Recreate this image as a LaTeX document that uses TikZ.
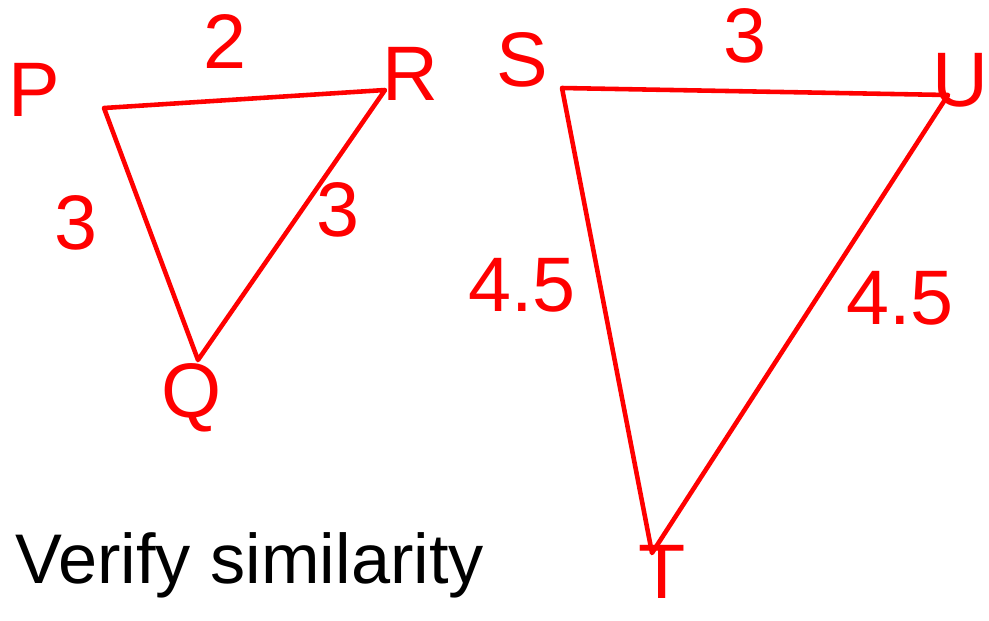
\documentclass[tikz,border=0pt]{standalone}
\usepackage{fontspec}
\setmainfont{Liberation Sans}
\begin{document}
\begin{tikzpicture}[x=0.02cm,y=-0.02cm,
  edge/.style={draw=red, line width=2.6pt, line cap=round, line join=round},
  lbl/.style={text=red, font=\fontsize{44}{44}\selectfont, inner sep=0pt},
  note/.style={text=black, font=\fontsize{40}{40}\selectfont, inner sep=0pt}]
\useasboundingbox (0,0) rectangle (989,620);
% left triangle
\coordinate (P) at (104,108);
\coordinate (Q) at (198,360);
\coordinate (R) at (385,90);
\draw[edge] (P) -- (R) -- (Q) -- cycle;
\node[lbl] (lP) at (34,90) {P};
\node[lbl] (lPR) at (225,42) {2};
\node[lbl] (lR) at (410,74) {R};
\node[lbl] (lPQ) at (76,223) {3};
\node[lbl] (lRQ) at (338,210) {3};
\node[lbl] (lQ) at (192,398) {Q};
% right triangle
\coordinate (S) at (562,88);
\coordinate (U) at (948,95);
\coordinate (T) at (652,553);
\draw[edge] (S) -- (U) -- (T) -- cycle;
\node[lbl] (lS) at (522,60) {S};
\node[lbl] (lSU) at (745,36) {3};
\node[lbl] (lU) at (960,80) {U};
\node[lbl] (lST) at (522,285) {4.5};
\node[lbl] (lUT) at (900,298) {4.5};
\node[lbl] (lT) at (662,572) {T};
% note
\node[note, anchor=west] (txt) at (15,565) {Verify similarity};
\end{tikzpicture}
\end{document}
